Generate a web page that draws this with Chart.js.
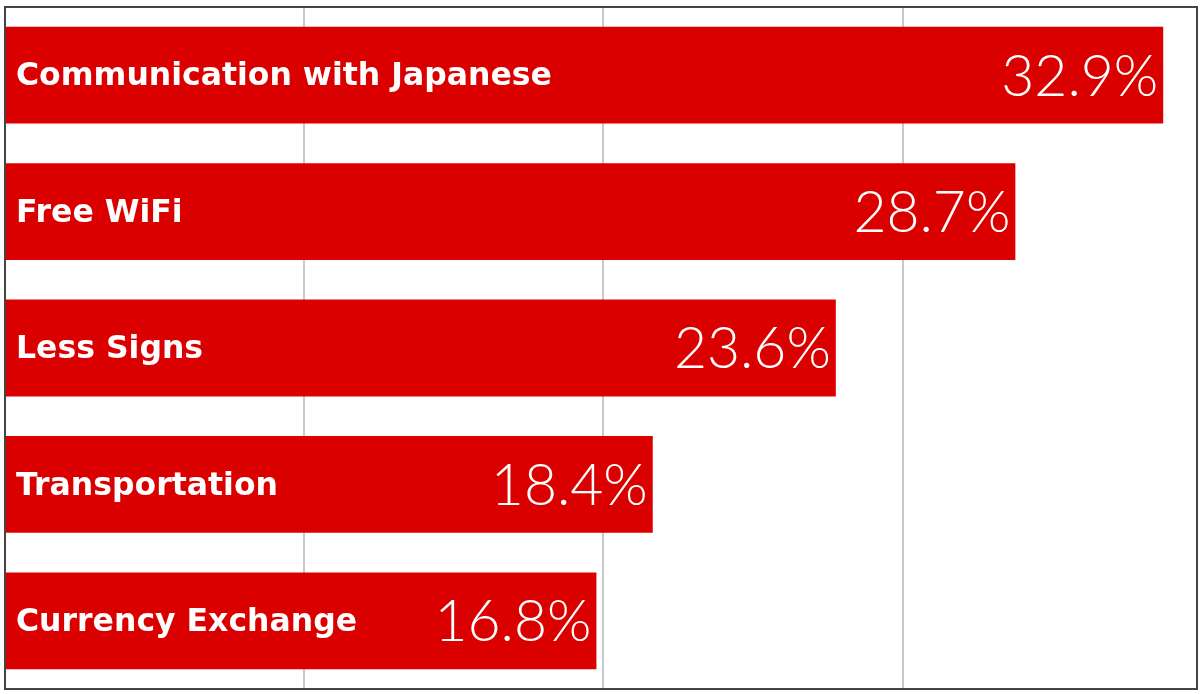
<!DOCTYPE html>
<html>
<head>
<meta charset="utf-8">
<script src="https://cdn.jsdelivr.net/npm/chart.js@4"></script>
<style>
  html, body { margin: 0; padding: 0; background: #fff; }
  #wrap { width: 1204px; height: 694px; }
</style>
</head>
<body>
<div id="wrap"><canvas id="chart"></canvas></div>
<script>
const categories = ['Communication with Japanese', 'Free WiFi', 'Less Signs', 'Transportation', 'Currency Exchange'];
const values = [32.9, 28.7, 23.6, 18.4, 16.8];
const valueLabels = ['32.9%', '28.7%', '23.6%', '18.4%', '16.8%'];

// draws the category name on the left and the value on the right, inside each bar
const barText = {
  id: 'barText',
  afterDatasetsDraw(chart) {
    const ctx = chart.ctx;
    const meta = chart.getDatasetMeta(0);
    ctx.save();
    ctx.fillStyle = '#fff';
    ctx.textBaseline = 'middle';
    meta.data.forEach((bar, i) => {
      ctx.font = 'bold 31.5px "DejaVu Sans", sans-serif';
      ctx.textAlign = 'left';
      ctx.fillText(categories[i], 16, bar.y + 2);
      ctx.font = '300 57px Lato, "Noto Sans", sans-serif';
      ctx.textAlign = 'right';
      ctx.fillText(valueLabels[i], bar.x - 5, bar.y + 2);
    });
    ctx.restore();
  },
  afterDraw(chart) {
    const { ctx, chartArea } = chart;
    ctx.save();
    ctx.strokeStyle = '#444';
    ctx.lineWidth = 2;
    ctx.strokeRect(chartArea.left, chartArea.top, chartArea.right - chartArea.left, chartArea.bottom - chartArea.top);
    ctx.restore();
  }
};

new Chart(document.getElementById('chart').getContext('2d'), {
  type: 'bar',
  data: {
    labels: categories,
    datasets: [{
      data: values,
      backgroundColor: '#da0000',
      barPercentage: 0.71,
      categoryPercentage: 1
    }]
  },
  options: {
    indexAxis: 'y',
    responsive: true,
    maintainAspectRatio: false,
    animation: false,
    layout: { padding: { left: 5, right: 7, top: 7, bottom: 5 } },
    plugins: {
      legend: { display: false },
      tooltip: { enabled: false }
    },
    scales: {
      x: {
        min: 0,
        max: 33.86,
        ticks: { display: false, stepSize: 8.5 },
        grid: { color: '#c8c8c8', lineWidth: 2, drawTicks: false },
        border: { display: false }
      },
      y: {
        ticks: { display: false },
        grid: { display: false, drawTicks: false },
        border: { display: false }
      }
    }
  },
  plugins: [barText]
});
</script>
</body>
</html>
